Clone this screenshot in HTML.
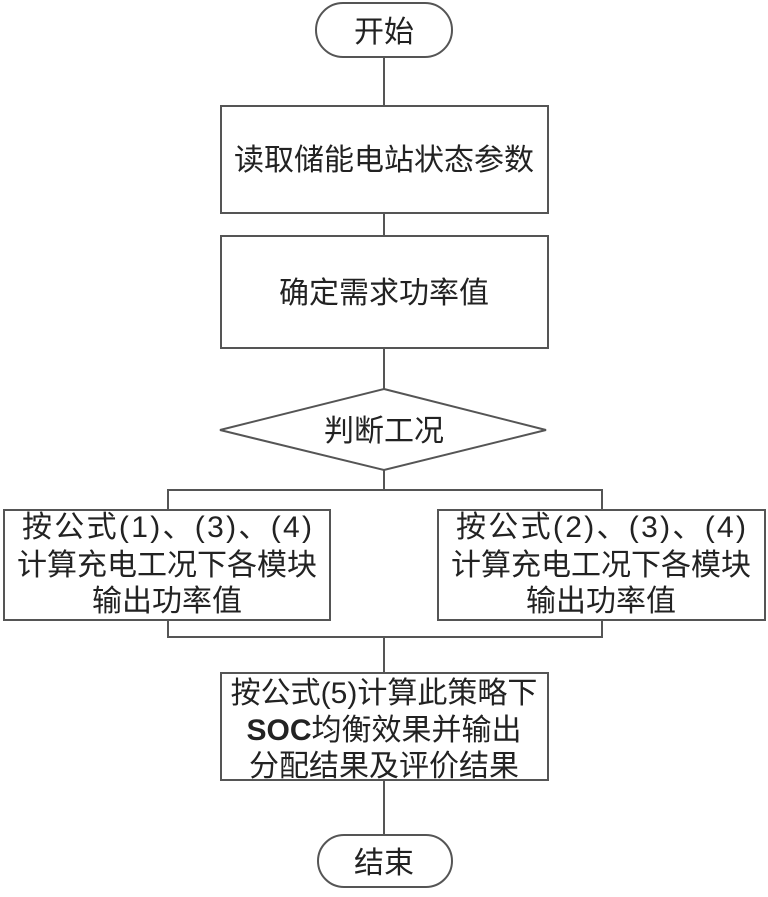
<!DOCTYPE html>
<html><head><meta charset="utf-8"><style>
html,body{margin:0;padding:0;background:#fff}
text{font-family:"Liberation Sans","Noto Sans CJK SC",sans-serif;font-size:30px;fill:#222;text-anchor:middle}
</style></head><body>
<svg width="768" height="892" viewBox="0 0 768 892" xmlns="http://www.w3.org/2000/svg">
<g fill="none" stroke="#555" stroke-width="2">
<rect x="316" y="3" width="136" height="54" rx="27"/>
<line x1="384" y1="57" x2="384" y2="106"/>
<rect x="221" y="106" width="327" height="107"/>
<line x1="384" y1="213" x2="384" y2="236"/>
<rect x="221" y="236" width="327" height="112"/>
<line x1="384" y1="348" x2="384" y2="389"/>
<polygon points="384,389 546,430 384,470 220,430"/>
<line x1="384" y1="470" x2="384" y2="490"/>
<polyline points="168,510 168,490 602,490 602,510"/>
<rect x="4" y="510" width="326" height="110"/>
<rect x="438" y="510" width="327" height="110"/>
<polyline points="168,620 168,637 602,637 602,620"/>
<line x1="384" y1="637" x2="384" y2="673"/>
<rect x="221" y="673" width="327" height="107"/>
<line x1="384" y1="780" x2="384" y2="835"/>
<rect x="318" y="835" width="134" height="52" rx="26"/>
</g>
<text x="384" y="42">开始</text>
<text x="384" y="170">读取储能电站状态参数</text>
<text x="384" y="303">确定需求功率值</text>
<text x="384" y="441">判断工况</text>
<text x="167" y="537" textLength="290">按公式(1)、(3)、(4)</text>
<text x="167" y="575">计算充电工况下各模块</text>
<text x="167" y="611">输出功率值</text>
<text x="601" y="537" textLength="290">按公式(2)、(3)、(4)</text>
<text x="601" y="575">计算充电工况下各模块</text>
<text x="601" y="611">输出功率值</text>
<text x="384" y="703">按公式(5)计算此策略下</text>
<text x="384" y="740"><tspan font-weight="bold">SOC</tspan>均衡效果并输出</text>
<text x="384" y="776">分配结果及评价结果</text>
<text x="384" y="873">结束</text>
</svg>
</body></html>
